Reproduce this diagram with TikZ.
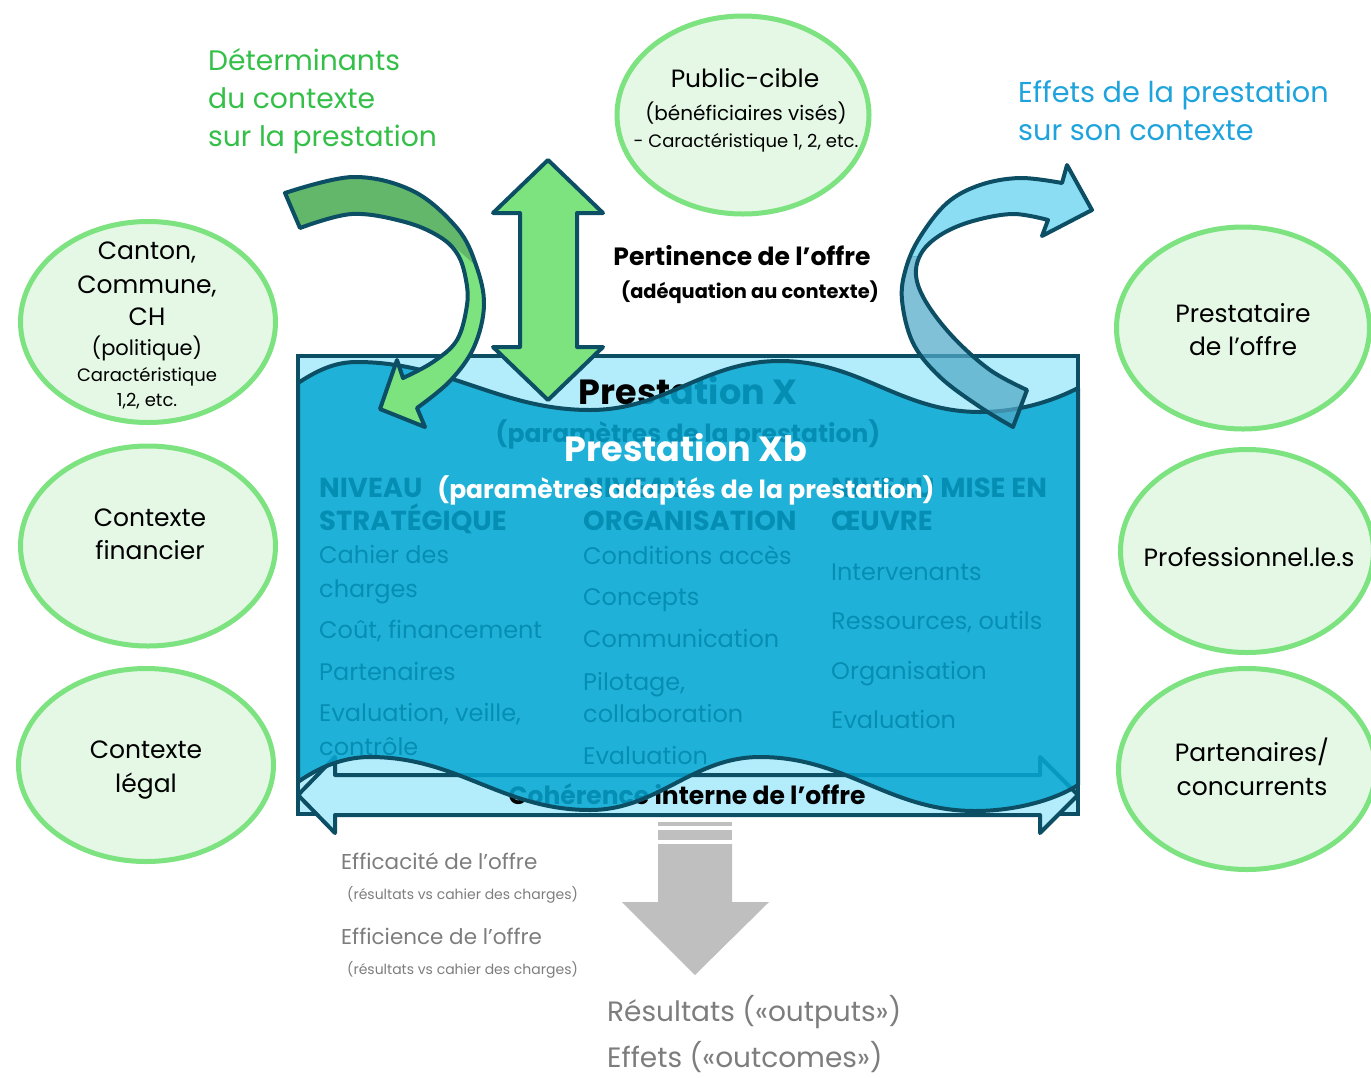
\documentclass[tikz,border=0pt]{standalone}
\usepackage{fontspec}
\setmainfont{Poppins}
\usetikzlibrary{shapes.geometric}
\newcommand\fsz[1]{\fontsize{#1}{#1}\selectfont}
\definecolor{dk}{RGB}{12,78,100}
\definecolor{ellst}{RGB}{125,226,128}
\definecolor{ellfill}{RGB}{228,248,229}
\definecolor{rectfill}{RGB}{179,236,251}
\definecolor{wavefill}{RGB}{7,167,211}
\definecolor{grlight}{RGB}{125,227,127}
\definecolor{grdark}{RGB}{98,183,106}
\definecolor{bllight}{RGB}{94,208,240}
\definecolor{bldark}{RGB}{80,169,199}
\definecolor{greentxt}{RGB}{52,192,72}
\definecolor{bluetxt}{RGB}{31,163,220}
\definecolor{graytxt}{RGB}{125,125,125}
\definecolor{grayarr}{RGB}{191,191,191}
\def\greenpath{(285,193) -- plot[smooth, tension=0.6] coordinates {(285,193) (353,177) (413,191) (457,228) (476,265) (484,305) (474,347) (450,381) (417,408)} -- (425,427) -- (380,409) -- (397,360) -- (403,378) -- plot[smooth, tension=0.6] coordinates {(403,378) (433,362) (457,340) (467,305) (466,280) (458,255) (440,237) (405,222) (352,214) (300,228)} -- cycle}
\def\bluepath{(1013,427) -- plot[smooth, tension=0.6] coordinates {(1013,427) (980,407) (940,377) (913,343) (902,300) (906,268) (920,237) (947,203) (980,185) (1020,178) (1062,183)} -- (1067,165) -- (1092,210) -- (1042,236) -- (1048,220) -- plot[smooth, tension=0.6] coordinates {(1048,220) (1013,214) (973,221) (942,234) (922,252) (916,275) (926,302) (953,337) (990,370) (1027,390)} -- cycle}
\begin{document}
\begin{tikzpicture}[x=1pt,y=-1pt,
  ell/.style={ellipse, draw=ellst, fill=ellfill, line width=5pt, inner sep=0pt},
  lab/.style={anchor=base, inner sep=0pt},
  labl/.style={anchor=base west, inner sep=0pt},
  outl/.style={draw=dk, line width=4pt, line join=round}]
\useasboundingbox (0,0) rectangle (1371,1077);
\clip (0,0) rectangle (1371,1077);

% ellipses
\node[ell, minimum width=252pt, minimum height=198pt] (pub) at (743,115) {};
\node[ell, minimum width=255pt, minimum height=201pt] (canton) at (148,322) {};
\node[ell, minimum width=255pt, minimum height=200pt] (fin) at (148,546) {};
\node[ell, minimum width=255pt, minimum height=193pt] (leg) at (146,765) {};
\node[ell, minimum width=253pt, minimum height=202pt] (prest) at (1243,328) {};
\node[ell, minimum width=253pt, minimum height=203pt] (pro) at (1247,551) {};
\node[ell, minimum width=257pt, minimum height=201pt] (part) at (1247,769) {};

% headings
\node[labl, text=greentxt, font=\fsz{28.2}] (g1) at (208,70) {Déterminants};
\node[labl, text=greentxt, font=\fsz{28.2}] (g2) at (208,108) {du contexte};
\node[labl, text=greentxt, font=\fsz{28.2}] (g3) at (208,146) {sur la prestation};
\node[labl, text=bluetxt, font=\fsz{28.7}] (b1) at (1018,102) {Effets de la prestation};
\node[labl, text=bluetxt, font=\fsz{28.7}] (b2) at (1018,140) {sur son contexte};

% ellipse texts
\node[lab, font=\fsz{25}] (p1) at (745,87) {Public-cible};
\node[lab, font=\fsz{20}] (p2) at (746,120) {(bénéficiaires visés)};
\node[lab, font=\fsz{18}] (p3) at (746,147) {- Caractéristique 1, 2, etc.};
\node[lab, font=\fsz{25}] (c1) at (147,259) {Canton,};
\node[lab, font=\fsz{25}] (c2) at (147,293) {Commune,};
\node[lab, font=\fsz{25}] (c3) at (147,325) {CH};
\node[lab, font=\fsz{21}] (c4) at (147,355) {(politique)};
\node[lab, font=\fsz{18}] (c5) at (147,381) {Caractéristique};
\node[lab, font=\fsz{18}] (c6) at (147,406) {1,2, etc.};
\node[lab, font=\fsz{25}] (f1) at (150,526) {Contexte};
\node[lab, font=\fsz{25}] (f2) at (150,559) {financier};
\node[lab, font=\fsz{25}] (l1) at (146,758) {Contexte};
\node[lab, font=\fsz{25}] (l2) at (146,792) {légal};
\node[lab, font=\fsz{25}] (r1) at (1243,322) {Prestataire};
\node[lab, font=\fsz{25}] (r2) at (1243,355) {de l'offre};
\node[lab, font=\fsz{25}] (r3) at (1249,566) {Professionnel.le.s};
\node[lab, font=\fsz{25}] (r4) at (1252,761) {Partenaires/};
\node[lab, font=\fsz{25}] (r5) at (1252,795) {concurrents};

% pertinence
\node[lab, font=\bfseries\fsz{25}] (pert1) at (742,265) {Pertinence de l'offre};
\node[lab, font=\bfseries\fsz{19.4}] (pert2) at (750,298) {(adéquation au contexte)};

% main rectangle (Prestation X)
\path[fill=rectfill, draw=dk, line width=4pt] (298,356) rectangle (1078,814);
\node[lab, font=\bfseries\fsz{35}] (tX) at (688,404) {Prestation X};
\node[lab, font=\bfseries\fsz{25}] (tXp) at (688,442) {(paramètres de la prestation)};

% coherence double arrow
\path[fill=rectfill, draw=dk, line width=4pt, line join=round] (298,795) -- (335,757) -- (335,775) -- (1040,775) -- (1040,757) -- (1078,795) -- (1040,833) -- (1040,815) -- (335,815) -- (335,833) -- cycle;
\node[lab, font=\bfseries\fsz{25}] (coh) at (687,804) {Cohérence interne de l'offre};

% columns
\node[labl, font=\bfseries\fsz{27.5}] (a1) at (319,497) {NIVEAU};
\node[labl, font=\bfseries\fsz{27.5}] (a2) at (319,530) {STRATÉGIQUE};
\node[labl, font=\fsz{24}] (a3) at (319,563) {Cahier des};
\node[labl, font=\fsz{24}] (a4) at (319,597) {charges};
\node[labl, font=\fsz{24}] (a5) at (319,638) {Coût, financement};
\node[labl, font=\fsz{24}] (a6) at (319,680) {Partenaires};
\node[labl, font=\fsz{24}] (a7) at (319,721) {Evaluation, veille,};
\node[labl, font=\fsz{24}] (a8) at (319,755) {contrôle};
\node[labl, font=\bfseries\fsz{27.5}] (o1) at (583,497) {NIVEAU};
\node[labl, font=\bfseries\fsz{27.5}] (o2) at (583,530) {ORGANISATION};
\node[labl, font=\fsz{24}] (o3) at (583,564) {Conditions accès};
\node[labl, font=\fsz{24}] (o4) at (583,605) {Concepts};
\node[labl, font=\fsz{24}] (o5) at (583,647) {Communication};
\node[labl, font=\fsz{24}] (o6) at (583,690) {Pilotage,};
\node[labl, font=\fsz{24}] (o7) at (583,722) {collaboration};
\node[labl, font=\fsz{24}] (o8) at (583,764) {Evaluation};
\node[labl, font=\bfseries\fsz{27.5}] (m1) at (831,497) {NIVEAU MISE EN};
\node[labl, font=\bfseries\fsz{27.5}] (m2) at (831,530) {ŒUVRE};
\node[labl, font=\fsz{24}] (m3) at (831,580) {Intervenants};
\node[labl, font=\fsz{24}] (m4) at (831,629) {Ressources, outils};
\node[labl, font=\fsz{24}] (m5) at (831,679) {Organisation};
\node[labl, font=\fsz{24}] (m6) at (831,728) {Evaluation};

% wave (Prestation Xb)
\path[fill=wavefill, fill opacity=0.85, draw=dk, line width=4pt, line join=round]
  (298,383) .. controls (318,370) and (335,362) .. (357,362)
  .. controls (447,362) and (500,410) .. (590,410)
  .. controls (666,410) and (704,361) .. (780,361)
  .. controls (860,361) and (900,412) .. (980,412)
  .. controls (1020,412) and (1055,400) .. (1078,388)
  -- (1078,785)
  .. controls (1055,800) and (1015,811) .. (975,811)
  .. controls (889,811) and (846,757) .. (760,757)
  .. controls (692,757) and (658,810) .. (590,810)
  .. controls (502,810) and (458,757) .. (370,757)
  .. controls (340,757) and (315,770) .. (298,782)
  -- cycle;
\node[lab, text=white, font=\bfseries\fsz{35}] (tXb) at (686,461) {Prestation Xb};
\node[lab, text=white, font=\bfseries\fsz{25}] (tXbp) at (686,498) {(paramètres adaptés de la prestation)};

% vertical double arrow
\path[outl, fill=grlight] (548,160) -- (603,213) -- (577,213) -- (577,347) -- (603,347) -- (548,400) -- (493,347) -- (520,347) -- (520,213) -- (493,213) -- cycle;

% green curved arrow
\fill[grlight] \greenpath;
\begin{scope}
  \clip (240,140) -- (520,140) -- (520,290) -- (495,283) -- (447,240) -- (240,240) -- cycle;
  \fill[grdark] \greenpath;
\end{scope}
\draw[outl] \greenpath;

% blue curved arrow
\begin{scope}
  \clip (880,140) rectangle (1110,256);
  \fill[bllight, fill opacity=0.72] \bluepath;
\end{scope}
\begin{scope}
  \clip (880,256) rectangle (1110,440);
  \fill[bldark, fill opacity=0.72] \bluepath;
\end{scope}
\draw[outl] \bluepath;

% grey output arrow
\fill[grayarr] (658,822) rectangle (732,826);
\fill[grayarr] (658,830) rectangle (732,840);
\fill[grayarr] (658,844) -- (732,844) -- (732,902) -- (769,902) -- (695,975) -- (622,902) -- (658,902) -- cycle;

% grey texts
\node[labl, text=graytxt, font=\fsz{21.5}] (e1) at (341,869) {Efficacité de l'offre};
\node[labl, text=graytxt, font=\fsz{14}] (e2) at (347,899) {(résultats vs cahier des charges)};
\node[labl, text=graytxt, font=\fsz{21.5}] (e3) at (341,944) {Efficience de l'offre};
\node[labl, text=graytxt, font=\fsz{14}] (e4) at (347,974) {(résultats vs cahier des charges)};
\node[labl, text=graytxt, font=\fsz{28}] (e5) at (607,1021) {Résultats («outputs»)};
\node[labl, text=graytxt, font=\fsz{28}] (e6) at (607,1067) {Effets («outcomes»)};
\end{tikzpicture}
\end{document}
